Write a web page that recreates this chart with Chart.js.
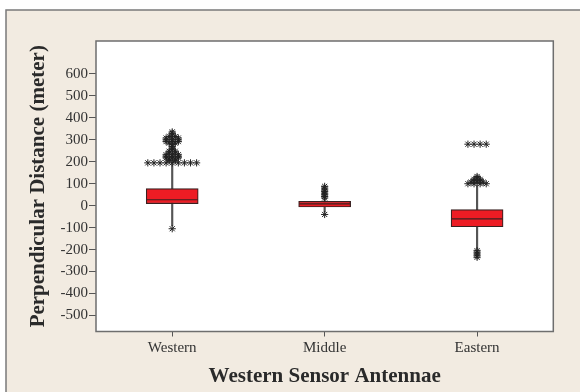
<!DOCTYPE html>
<html>
<head>
<meta charset="utf-8">
<script src="https://cdn.jsdelivr.net/npm/chart.js@4.4.1/dist/chart.umd.min.js"></script>
<style>
  html, body { margin: 0; padding: 0; background: #fff; }
</style>
</head>
<body>
<canvas id="chart" width="580" height="392"></canvas>
<script>
// box plot summary per antenna group
const groups = ['Western', 'Middle', 'Eastern'];
const q1 = [9, -6, -96];
const medians = [27, 8, -60];
const q3 = [78, 20, -18];
const whiskerLow = [-92, -30, -198];
const whiskerHigh = [190, 30, 92];
const yTicks = [-500, -400, -300, -200, -100, 0, 100, 200, 300, 400, 500, 600];

// outliers (repeated values get stacked side by side like Minitab does)
const westernOutliers = [
  -105,
  195, 195, 195, 195, 195, 195, 195, 195, 195,
  205, 205, 212, 212, 218, 218, 218, 225, 225, 225, 232, 232, 232,
  240, 240, 248, 248, 255, 262, 270, 278, 285, 285,
  292, 292, 292, 300, 300, 300, 308, 308, 308, 315, 315, 322, 330, 336
];
const middleOutliers = [-40, 35, 42, 50, 57, 65, 72, 80, 88];
const easternOutliers = [
  -205, -212, -220, -228, -235,
  100, 100, 100, 100, 107, 107, 107, 114, 114, 120, 120, 127, 133,
  280, 280, 280, 280
];

const serif = "'Liberation Serif', 'Times New Roman', serif";
const boxRed = '#ED1C24';
const dark = '#3a2020';

function spread(values, idx) {
  const counts = {};
  values.forEach(v => { counts[v] = (counts[v] || 0) + 1; });
  const seen = {};
  const step = 0.04;
  return values.map(v => {
    const k = seen[v] || 0;
    seen[v] = k + 1;
    return { x: idx + (k - (counts[v] - 1) / 2) * step, y: v };
  });
}

const outlierPoints = [
  ...spread(westernOutliers, 0),
  ...spread(middleOutliers, 1),
  ...spread(easternOutliers, 2)
];

const framePlugin = {
  id: 'frame',
  beforeDraw(chart) {
    const {ctx, chartArea: a} = chart;
    ctx.save();
    ctx.fillStyle = '#fff';
    ctx.fillRect(0, 0, chart.width, chart.height);
    ctx.fillStyle = '#F2EBE1';
    ctx.fillRect(6, 10, chart.width, chart.height);
    ctx.strokeStyle = '#7a7a7a';
    ctx.lineWidth = 1.5;
    ctx.strokeRect(6, 10, chart.width + 10, chart.height + 10);
    ctx.fillStyle = '#fff';
    ctx.fillRect(a.left, a.top, a.right - a.left, a.bottom - a.top);
    ctx.restore();
  },
  afterDraw(chart) {
    const {ctx, chartArea: a} = chart;
    ctx.save();
    ctx.strokeStyle = '#6e6e6e';
    ctx.lineWidth = 1.5;
    ctx.strokeRect(a.left, a.top, a.right - a.left, a.bottom - a.top);
    ctx.restore();
  }
};

new Chart(document.getElementById('chart'), {
  type: 'bar',
  data: {
    labels: groups,
    datasets: [
      {
        type: 'scatter',
        xAxisID: 'xs',
        data: medians.map((m, i) => ({ x: i, y: m })),
        pointStyle: 'line',
        radius: 25.5,
        borderColor: dark,
        borderWidth: 1.2,
        order: 1
      },
      {
        data: q1.map((v, i) => [v, q3[i]]),
        backgroundColor: boxRed,
        borderColor: dark,
        borderWidth: 1.2,
        borderSkipped: false,
        barThickness: 52,
        grouped: false,
        order: 2
      },
      {
        data: whiskerLow.map((v, i) => [v, whiskerHigh[i]]),
        backgroundColor: '#555',
        borderWidth: 0,
        barThickness: 1.5,
        grouped: false,
        order: 3
      },
      {
        type: 'scatter',
        xAxisID: 'xs',
        data: outlierPoints,
        pointStyle: 'star',
        radius: 3.6,
        borderColor: '#222',
        borderWidth: 1,
        order: 0
      }
    ]
  },
  options: {
    responsive: false,
    devicePixelRatio: 1,
    animation: false,
    layout: { padding: { left: 0, right: 23, top: 41, bottom: 0 } },
    plugins: { legend: { display: false }, tooltip: { enabled: false } },
    scales: {
      x: {
        type: 'category',
        offset: true,
        grid: { offset: false, drawOnChartArea: false, tickLength: 5, color: '#555' },
        border: { display: false },
        ticks: { font: { family: serif, size: 15 }, color: '#333', padding: 3 },
        title: {
          display: true,
          text: 'Western Sensor Antennae',
          font: { family: serif, size: 21, weight: 'bold' },
          color: '#2a2a2a',
          padding: { top: 0, bottom: 3 }
        },
        afterFit(scale) { scale.height = 60.5; }
      },
      xs: {
        type: 'linear',
        display: false,
        offset: false,
        grid: { offset: false },
        min: -0.5,
        max: 2.5
      },
      y: {
        min: -573,
        max: 750,
        afterBuildTicks(scale) { scale.ticks = yTicks.map(v => ({ value: v })); },
        grid: { drawOnChartArea: false, tickLength: 7, color: '#555' },
        border: { display: false },
        ticks: { font: { family: serif, size: 15 }, color: '#333', padding: 1 },
        title: {
          display: true,
          text: 'Perpendicular Distance (meter)',
          font: { family: serif, size: 21, weight: 'bold' },
          color: '#2a2a2a',
          padding: { top: 26, bottom: 0 }
        },
        afterFit(scale) { scale.width = 96; }
      }
    }
  },
  plugins: [framePlugin]
});
</script>
</body>
</html>
